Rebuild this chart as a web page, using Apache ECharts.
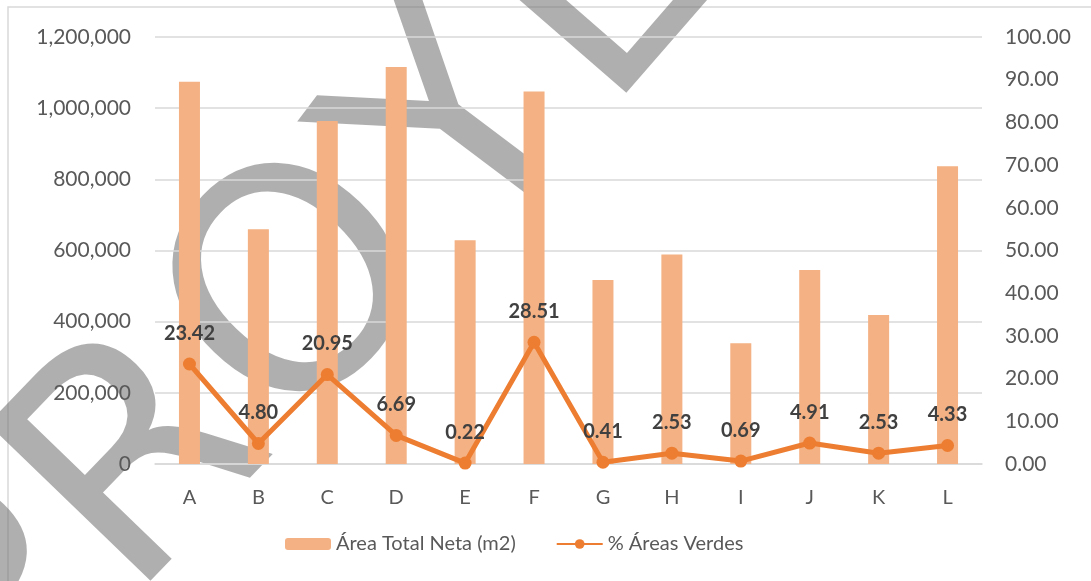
<!DOCTYPE html>
<html>
<head>
<meta charset="utf-8">
<script src="https://cdn.jsdelivr.net/npm/echarts@6/dist/echarts.min.js"></script>
<style>
  html, body { margin: 0; padding: 0; background: #fff; }
  #chart { width: 1091px; height: 581px; }
</style>
</head>
<body>
<div id="chart"></div>
<script>
// Área total vs % áreas verdes

var categories = ['A', 'B', 'C', 'D', 'E', 'F', 'G', 'H', 'I', 'J', 'K', 'L'];
var areaTotal = [1074000, 660000, 964000, 1116000, 629000, 1047000, 517000, 589000, 339000, 545000, 419000, 837000];
var pctVerdes = [23.42, 4.80, 20.95, 6.69, 0.22, 28.51, 0.41, 2.53, 0.69, 4.91, 2.53, 4.33];

var font = 'Lato, sans-serif';

// marca de agua, letra por letra
var wmLetters = ['P', 'R', 'O', 'Y', 'E', 'C'];
var wmOffsets = [-443, -236, 0, 228, 430, 642];
var wmTilt = [0, 0, 0, 7, 3, 3];

var chart = echarts.init(document.getElementById('chart'));

var wmChildren = wmLetters.map(function (ch, i) {
    return {
        type: 'text',
        x: wmOffsets[i],
        y: 0,
        rotation: wmTilt[i] * Math.PI / 180,
        style: {
            text: ch,
            x: 0,
            y: 28,
            fontFamily: 'DejaVu Sans',
            fontSize: 310,
            fill: 'rgba(110,110,110,0.55)',
            textAlign: 'center',
            textVerticalAlign: 'middle'
        }
    };
});

var option = {
    backgroundColor: '#fff',
    textStyle: { fontFamily: font },
    grid: { left: 155, right: 109, top: 37, bottom: 117 },
    legend: {
        bottom: 22,
        left: 280,
        itemWidth: 46,
        itemHeight: 12,
        itemGap: 40,
        textStyle: { fontSize: 20, color: '#595959', fontFamily: font },
        data: ['Área Total Neta (m2)', '% Áreas Verdes']
    },
    xAxis: {
        type: 'category',
        data: categories,
        axisLine: { lineStyle: { color: '#d9d9d9', width: 1.5 } },
        axisTick: { show: false },
        axisLabel: { color: '#595959', fontSize: 20, margin: 24 }
    },
    yAxis: [
        {
            type: 'value',
            min: 0,
            max: 1200000,
            interval: 200000,
            axisLine: { show: false },
            axisTick: { show: false },
            splitLine: { lineStyle: { color: '#d9d9d9', width: 1.5 } },
            axisLabel: {
                color: '#595959',
                fontSize: 21,
                margin: 24,
                formatter: function (v) { return v.toLocaleString('en-US'); }
            }
        },
        {
            type: 'value',
            min: 0,
            max: 100,
            interval: 10,
            axisLine: { show: false },
            axisTick: { show: false },
            splitLine: { show: false },
            axisLabel: {
                color: '#595959',
                fontSize: 21,
                margin: 23,
                formatter: function (v) { return v.toFixed(2); }
            }
        }
    ],
    series: [
        {
            name: 'Área Total Neta (m2)',
            type: 'bar',
            barWidth: 21,
            color: '#F4B183',
            data: areaTotal
        },
        {
            name: '% Áreas Verdes',
            type: 'line',
            yAxisIndex: 1,
            color: '#ED7D31',
            symbol: 'circle',
            symbolSize: 13,
            lineStyle: { width: 5 },
            z: 3,
            label: {
                show: true,
                position: 'top',
                distance: 14,
                fontSize: 20,
                fontWeight: 'bold',
                color: '#404040',
                formatter: function (p) { return p.value.toFixed(2); }
            },
            data: pctVerdes
        }
    ],
    graphic: [
        {
            type: 'rect',
            shape: { x: 8, y: 7, width: 1200, height: 700 },
            style: { fill: 'none', stroke: '#d9d9d9', lineWidth: 1.5 },
            silent: true,
            z: 0
        },
        {
            type: 'group',
            x: 290,
            y: 280,
            rotation: 46 * Math.PI / 180,
            silent: true,
            z: 100,
            children: wmChildren
        }
    ]
};

chart.setOption(option);
</script>
</body>
</html>
